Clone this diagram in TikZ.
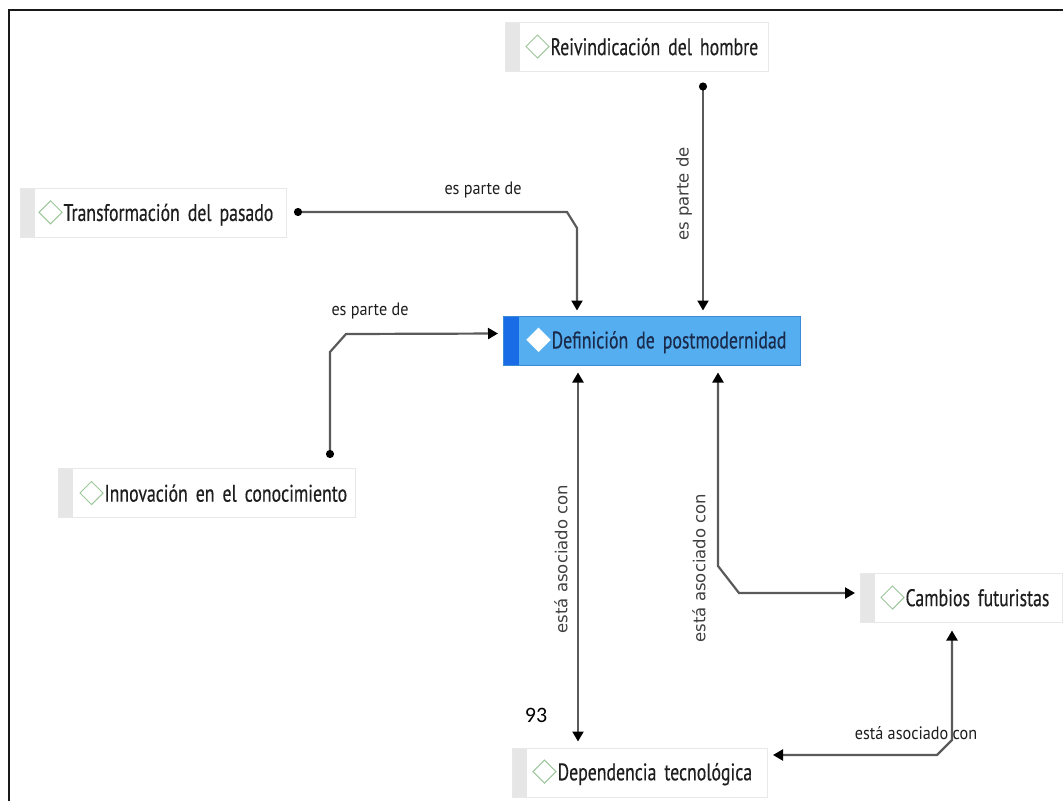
\documentclass[tikz,border=0pt]{standalone}
\usepackage{fontspec}
\setmainfont{PT Sans}[FakeStretch=0.74,FakeBold=0.4,WordSpace=0.8]
\newfontfamily\lblfont{PT Sans}[FakeStretch=0.9]
\newfontfamily\vfont{DejaVu Sans}
\newfontfamily\numfont{Carlito}
\usetikzlibrary{arrows.meta,calc}
\definecolor{boxline}{HTML}{E8E8E8}
\definecolor{stripgray}{HTML}{E6E6E6}
\definecolor{dgreen}{HTML}{9CC79A}
\definecolor{deffill}{HTML}{55AEF0}
\definecolor{defline}{HTML}{3A8AD8}
\definecolor{defstrip}{HTML}{1A6BE6}
\definecolor{deftext}{HTML}{1A2A4A}
\definecolor{linegray}{HTML}{5A5A5A}
\definecolor{txt}{HTML}{1E1E1E}
\newcommand\dmd[2]{\tikz[baseline=-0.36em]\draw[#1,fill=#2,line width=1pt,line join=miter] (0,0)--(0.48em,0.48em)--(0.96em,0)--(0.48em,-0.48em)--cycle;}
\tikzset{
  concept/.style={draw=boxline, fill=white, line width=1pt, minimum height=49pt,
    inner xsep=0pt, inner ysep=0pt, anchor=west, align=left, text=txt,
    font=\fontsize{24}{27}\selectfont,
    path picture={\fill[stripgray] (path picture bounding box.south west) rectangle ([xshift=14pt]path picture bounding box.north west);}},
  mainconcept/.style={draw=defline, fill=deffill, line width=1pt, minimum height=49pt,
    inner xsep=0pt, inner ysep=0pt, anchor=west, align=left, text=deftext,
    font=\fontsize{24}{27}\selectfont,
    path picture={\fill[defstrip] (path picture bounding box.south west) rectangle ([xshift=15pt]path picture bounding box.north west);}},
  rel/.style={draw=linegray, line width=2.2pt},
  dotstart/.style={{Circle[length=8pt,color=black]}-{Triangle[width=11pt,length=10pt,color=black]}},
  bothtips/.style={{Triangle[width=11pt,length=10pt,color=black]}-{Triangle[width=11pt,length=10pt,color=black]}},
  lbl/.style={font=\lblfont\fontsize{18}{20}\selectfont, text=txt, inner sep=1pt},
  vlbl/.style={font=\vfont\fontsize{16.5}{18}\selectfont, text=txt!85, inner sep=1pt, rotate=90},
  frame/.style={draw=black!90, line width=2.5pt}
}
\begin{document}
\begin{tikzpicture}[x=1pt,y=-1pt]
\useasboundingbox (0,0) rectangle (1063,801);
\draw[frame] (9,801) -- (9,10) -- (1063,10);

\node[concept, text width=263pt] (reiv) at (505,46.5) {\hspace*{20pt}\dmd{dgreen}{white}\hspace{1pt}Reivindicación del hombre};
\node[concept, text width=266pt] (trans) at (20,213) {\hspace*{18pt}\dmd{dgreen}{white}\hspace{1pt}Transformación del pasado};
\node[concept, text width=297pt] (innov) at (58,493) {\hspace*{21pt}\dmd{dgreen}{white}\hspace{1pt}Innovación en el conocimiento};
\node[mainconcept, text width=297pt] (def) at (503,340.5) {\hspace*{23pt}\dmd{white}{white}\hspace{1pt}Definición de postmodernidad};
\node[concept, text width=202pt] (camb) at (860,597.5) {\hspace*{20pt}\dmd{dgreen}{white}\hspace{1pt}Cambios futuristas};
\node[concept, text width=255pt] (dep) at (512,772.5) {\hspace*{20pt}\dmd{dgreen}{white}\hspace{1pt}Dependencia tecnológica};

% connectors
\draw[rel, dotstart, shorten >=5pt] ($(reiv.south west)+(198,11)$) -- ($(def.north west)+(200,0)$);
\draw[rel, dotstart, shorten >=5pt] ($(trans.east)+(7,-1)$) -- (567,212) -- (577,228) -- ($(def.north west)+(74,0)$);
\draw[rel, dotstart, shorten >=5pt] ($(innov.north west)+(272,-10)$) -- (330,352) -- (346,334) -- ($(def.west)+(0,-7)$);
\draw[rel, bothtips, shorten <=7pt, shorten >=6pt] ($(def.south west)+(75,0)$) -- ($(dep.north west)+(66,0)$);
\draw[rel, bothtips, shorten <=7pt, shorten >=5pt] ($(def.south west)+(215,0)$) -- (718,566) -- (739,593) -- ($(camb.west)+(0,-4.5)$);
\draw[rel, bothtips, shorten <=8pt, shorten >=5pt] ($(camb.south west)+(92,0)$) -- (952,740) -- (937,755) -- ($(dep.east)+(0,-17.5)$);

% labels
\node[lbl] (l1) at (483,190) {es parte de};
\node[lbl] (l2) at (370,311) {es parte de};
\node[vlbl] (l3) at (684,194) {es parte de};
\node[vlbl] (l4) at (561,559) {está asociado con};
\node[vlbl] (l5) at (699,568) {está asociado con};
\node[lbl] (l6) at (916,733) {está asociado con};
\node[font=\numfont\fontsize{22}{24}\selectfont, text=black, inner sep=0pt] (pg) at (536,715) {93};
\end{tikzpicture}
\end{document}
